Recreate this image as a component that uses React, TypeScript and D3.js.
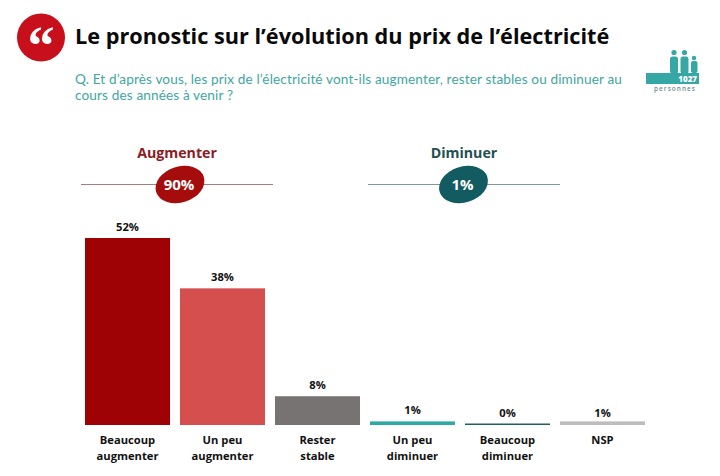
import React from 'react';
import * as d3 from 'd3';

const categories = [
  ['Beaucoup', 'augmenter'],
  ['Un peu', 'augmenter'],
  ['Rester', 'stable'],
  ['Un peu', 'diminuer'],
  ['Beaucoup', 'diminuer'],
  ['NSP'],
];
const values = [52, 38, 8, 1, 0, 1];
const barColors = ['#9e0204', '#d64f4f', '#787373', '#2fa9a5', '#1f5f62', '#bdbdbd'];

const groupNames = ['Augmenter', 'Diminuer'];
const groupTotals = [90, 1];
const groupColors = ['#a50c0c', '#125b60'];
const groupTitleColors = ['#8c1a1f', '#1f5052'];
const groupCenters = [177, 464];
const badgeCenters = [180, 463.5];

const title = 'Le pronostic sur l’évolution du prix de l’électricité';
const question = [
  'Q. Et d’après vous, les prix de l’électricité vont-ils augmenter, rester stables ou diminuer au',
  'cours des années à venir ?',
];

const FONT = '"Open Sans", Lato, sans-serif';
const TEAL = '#35a7a5';

const x = d3.scaleBand<number>()
  .domain(d3.range(values.length))
  .range([85, 645])
  .paddingInner(0.105);

const y = d3.scaleLinear().domain([0, 52]).range([425, 238]);

export default function App() {
  return (
    <svg
      width={720}
      height={476}
      style={{ position: 'absolute', left: 0, top: 0, background: '#fff' }}
      fontFamily={FONT}
    >
      {/* quote badge */}
      <circle cx={41} cy={37.5} r={24} fill="#c8101c" />
      <text x={41} y={64} textAnchor="middle" fontFamily="'Liberation Serif', serif" fontWeight={700} fontSize={54} fill="#fff">“</text>

      <text x={75} y={44} fontSize={21.7} fontWeight={700} fill="#0a0a0a">{title}</text>
      {question.map((line, i) => (
        <text key={i} x={75} y={84 + i * 16} fontFamily="Lato, sans-serif" fontSize={13.6} letterSpacing={0.13} fill="#41a6a2">{line}</text>
      ))}

      {/* sample size logo */}
      <g fill={TEAL}>
        <circle cx={674} cy={52.5} r={2.6} />
        <circle cx={684.5} cy={52.5} r={2.6} />
        <circle cx={694} cy={58} r={2.2} />
        <rect x={670} y={56.5} width={8} height={17} rx={2.5} />
        <rect x={680.5} y={56.5} width={8} height={17} rx={2.5} />
        <rect x={691} y={61} width={6.5} height={12} rx={2} />
        <rect x={646} y={73} width={53} height={11} />
      </g>
      <text x={697} y={82} textAnchor="end" fontSize={8} fontWeight={800} fill="#fff">1027</text>
      <text x={675} y={91} textAnchor="middle" fontSize={6.5} fontWeight={600} letterSpacing={1} fill="#6f8f8f">personnes</text>

      {/* group headers */}
      {groupNames.map((name, i) => {
        const cx = groupCenters[i];
        const bx = badgeCenters[i];
        return (
          <g key={name}>
            <text x={cx} y={158} textAnchor="middle" fontSize={14.2} fontWeight={700} fill={groupTitleColors[i]}>{name}</text>
            <line x1={cx - 96} x2={cx + 96} y1={184.5} y2={184.5} stroke={i === 0 ? '#a87c78' : '#7f9a9a'} strokeWidth={1} />
            <ellipse cx={bx} cy={184.5} rx={25} ry={18} transform={`rotate(-18 ${bx} 184.5)`} fill={groupColors[i]} />
            <text x={bx - 1} y={190} textAnchor="middle" fontSize={15} fontWeight={700} fill="#fff">{groupTotals[i]}%</text>
          </g>
        );
      })}

      {/* bars */}
      {values.map((v, i) => {
        const bx = x(i) as number;
        const cx = bx + x.bandwidth() / 2;
        const top = y(v);
        const h = Math.max(y(0) - top, 1.5);
        // the NSP label sits a little lower than the other 1% one
        const labelGap = i === 5 ? 4 : 7;
        return (
          <g key={i}>
            <rect x={bx} y={y(0) - h} width={x.bandwidth()} height={h} fill={barColors[i]} />
            <text x={cx} y={y(0) - h - labelGap} textAnchor="middle" fontSize={11.2} fontWeight={700} fill="#111">{v}%</text>
            {categories[i].map((line, j) => (
              <text key={j} x={cx} y={444 + j * 15.5} textAnchor="middle" fontSize={11.2} fontWeight={700} fill="#111">{line}</text>
            ))}
          </g>
        );
      })}
    </svg>
  );
}
